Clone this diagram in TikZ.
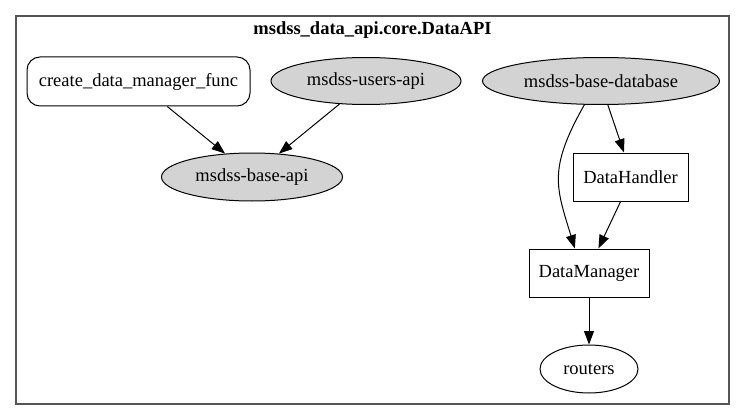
\documentclass[tikz,border=0pt]{standalone}
\usepackage{fontspec}
\setmainfont{Liberation Serif}
\usetikzlibrary{shapes.geometric,arrows.meta}
\definecolor{nodegray}{RGB}{211,211,211}
\definecolor{clustergray}{RGB}{85,85,85}
\begin{document}
\begin{tikzpicture}[x=1pt,y=-1pt,
  every node/.style={font=\fontsize{18.5}{21}\selectfont, inner sep=0pt, line width=1pt},
  ell/.style={ellipse, draw=black, fill=nodegray},
  wellipse/.style={ellipse, draw=black, fill=white},
  boxnode/.style={rectangle, draw=black, fill=white},
  roundbox/.style={rectangle, rounded corners=13pt, draw=black, fill=white},
  edge/.style={line width=1pt, -{Triangle[length=13.5pt,width=10pt]}}
]
\useasboundingbox (0,0) rectangle (745,420);
\fill[white] (0,0) rectangle (745,420);
\draw[clustergray, line width=1.2pt] (16,16) rectangle (729,404);
\node[font=\fontsize{18.5}{21}\selectfont\bfseries] (title) at (372.5,30) {msdss\_data\_api.core.DataAPI};

\node[roundbox, minimum width=223pt, minimum height=49pt] (create) at (138.5,81.5) {create\_data\_manager\_func};
\node[ell, minimum width=190pt, minimum height=47pt] (users) at (366,81) {msdss-users-api};
\node[ell, minimum width=237pt, minimum height=47pt] (database) at (601,81) {msdss-base-database};
\node[ell, minimum width=181pt, minimum height=48pt] (baseapi) at (252,177) {msdss-base-api};
\node[boxnode, minimum width=115pt, minimum height=48pt] (handler) at (630.5,177) {DataHandler};
\node[boxnode, minimum width=120pt, minimum height=48pt] (manager) at (589,273) {DataManager};
\node[wellipse, minimum width=98pt, minimum height=48pt] (routers) at (589,369) {routers};

\draw[edge] (create.319) -- (baseapi.139.6);
\draw[edge] (users.221.5) -- (baseapi.41.5);
\draw[edge] (database.286) -- (handler.105);
\draw[edge] (database.235) .. controls (548,169) and (556,187) .. (manager.120.3);
\draw[edge] (handler.248.4) -- (manager.69.4);
\draw[edge] (manager.south) -- (routers.north);
\end{tikzpicture}
\end{document}
